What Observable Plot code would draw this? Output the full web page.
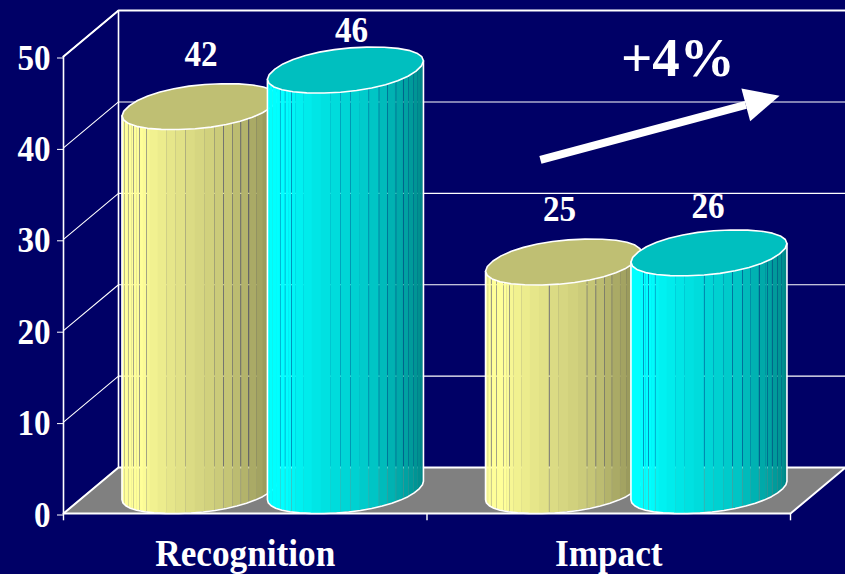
<!DOCTYPE html>
<html>
<head>
<meta charset="utf-8">
<script src="https://cdn.jsdelivr.net/npm/d3@7"></script>
<script src="https://cdn.jsdelivr.net/npm/@observablehq/plot@0.6"></script>
<style>
  html, body { margin: 0; padding: 0; background: #000066; overflow: hidden; }
  svg { display: block; }
</style>
</head>
<body>
<script>
// Chart values
const categories = ["Recognition", "Impact"];
const firstSeries = [42, 25];
const secondSeries = [46, 26];
const tickValues = [0, 10, 20, 30, 40, 50];
const annotation = "+4%";

// Oblique 3D layout, in data units: one category spans 1 on x
const depthX = 0.1513;
const depthY = 5.03;
const halfWidth = 0.2146;
const roundness = 0.93;
const xMax = categories.length;
const yMax = 50;
const pxPerX = 363.5;
const pxPerY = 9.14;
const serifFont = "Liberation Serif";

// Per-series cylinder look: offset in the category, colours, facet seams (degrees round the front)
const cylinders = [
  { values: firstSeries, offset: 0.3, base: [255, 255, 153],
    seams: [16, 24, 32, 40, 47, 80, 101, 108, 115, 122, 129, 137],
    labelDx: [1, -4], labelDy: [-75, -76] },
  { values: secondSeries, offset: 0.7, base: [0, 255, 255],
    seams: [34, 40, 47, 87, 94, 101, 108, 116, 123, 131, 139, 145, 152, 159],
    labelDx: [6, -1], labelDy: [-63, -69] }
];

const shade = d3.scaleLinear()
  .domain([0, 42, 52, 80, 110, 130, 150, 180])
  .range([1, 1, 0.95, 0.87, 0.78, 0.68, 0.6, 0.5]);

// Slightly squared circle used for lids and bases
const rad = d => d * Math.PI / 180;
const power = v => Math.sign(v) * Math.pow(Math.abs(v), roundness);
const degrees = d3.range(0, 360, 0.5);
const unit = deg => ({ c: power(Math.cos(rad(deg))), s: power(Math.sin(rad(deg))) });
let radiusX = halfWidth;
for (let k = 0; k < 30; k++) {
  const widest = d3.max(degrees, deg => {
    const u = unit(deg);
    return radiusX * u.c + depthX / 2 * u.s;
  });
  radiusX += halfWidth - widest;
}
const leftmost = d3.least(degrees, deg => {
  const u = unit(deg);
  return radiusX * u.c + depthX / 2 * u.s;
});

// A point on the rim of a cylinder at height `value`
function rim(centre, value, deg) {
  const u = unit(deg);
  const d = 0.5 + 0.5 * u.s;
  return { x: centre + radiusX * u.c + depthX * d, y: value + depthY * d };
}

// Front arc from silhouette to silhouette, relative to the centre of the cylinder
const frontArc = d3.range(0, 180.01, 0.5)
  .map(phi => rim(-depthX / 2, 0, leftmost + phi))
  .sort((a, b) => a.x - b.x);
const frontIndex = d3.bisector(p => p.x).center;
const frontHeight = rel => frontArc[frontIndex(frontArc, rel)].y;

const color = (base, k) => `rgb(${base.map(c => Math.round(c * k)).join(",")})`;

function cylinderMarks(cyl) {
  const facetAngles = d3.range(0, 180.01, 7.2);
  const stops = Array.from(new Set([...facetAngles, ...cyl.seams])).sort(d3.ascending);
  const stripes = [], outlines = [], lids = [];
  const gap = 0.0008, overlap = 0.001;
  cyl.values.forEach((value, i) => {
    const centre = i + cyl.offset;
    const mid = centre + depthX / 2;
    stops.slice(0, -1).forEach((phi, j) => {
      const next = stops[j + 1];
      const x0 = -halfWidth * Math.cos(rad(phi));
      const x1 = -halfWidth * Math.cos(rad(next));
      const endX = cyl.seams.includes(next) ? x1 - gap : x1 + overlap;
      const fill = color(cyl.base, shade((phi + next) / 2));
      const id = `${i}-${j}`;
      const h0 = frontHeight(x0), h1 = frontHeight(x1);
      stripes.push({ stripe: id, x: mid + x0, y1: h0, y2: h0 + value, fill });
      stripes.push({ stripe: id, x: mid + endX, y1: h1, y2: h1 + value, fill });
    });
    outlines.push({ bar: i, ...rim(centre, value, leftmost) });
    d3.range(0, 180.01, 9).forEach(phi => outlines.push({ bar: i, ...rim(centre, 0, leftmost + phi) }));
    outlines.push({ bar: i, ...rim(centre, value, leftmost + 180) });
    d3.range(0, 360.01, 12).forEach(deg => lids.push({ bar: i, ...rim(centre, value, leftmost + deg) }));
  });
  const lidColor = color(cyl.base, 0.75);
  return [
    Plot.area(stripes, { x1: "x", y1: "y1", y2: "y2", z: "stripe", fill: "fill" }),
    Plot.line(outlines, { x: "x", y: "y", z: "bar", stroke: "white", strokeWidth: 1.6 }),
    Plot.line(lids, { x: "x", y: "y", z: "bar", fill: lidColor, stroke: "white", strokeWidth: 1.6 })
  ];
}

// The value labels carry per-bar nudges, so they are drawn one at a time
function valueLabels(cyl) {
  return cyl.values.map((v, i) => Plot.text([v], {
    x: () => i + cyl.offset + depthX / 2,
    y: d => d,
    text: d => String(d),
    dx: cyl.labelDx[i],
    dy: cyl.labelDy[i],
    fill: "white", fontSize: 36, fontWeight: "bold", fontFamily: serifFont
  }));
}

// Floor parallelogram
const floor = [
  { x: 0, y1: 0, y2: 0 },
  { x: depthX, y1: 0, y2: depthY },
  { x: xMax, y1: 0, y2: depthY },
  { x: xMax + depthX, y1: depthY, y2: depthY }
];

// Wall grid: a diagonal on the side wall joined to a horizontal on the back wall
const gridPaths = tickValues.filter(v => v > 0).flatMap(v => [
  { v, x: 0, y: v },
  { v, x: depthX, y: v + depthY },
  { v, x: xMax + depthX, y: v + depthY }
]);

// Rising arrow beside the annotation, head built from its own direction
const arrowFrom = { x: 1.312, y: 38.7 };
const arrowTip = { x: 1.97, y: 45.7 };
const headLength = 35, headHalfWidth = 17;
const pxDx = (arrowTip.x - arrowFrom.x) * pxPerX;
const pxDy = (arrowTip.y - arrowFrom.y) * pxPerY;
const pxLen = Math.hypot(pxDx, pxDy);
const ux = pxDx / pxLen, uy = pxDy / pxLen;
const headBase = { x: arrowTip.x - headLength * ux / pxPerX, y: arrowTip.y - headLength * uy / pxPerY };
const arrowHead = [
  arrowTip,
  { x: headBase.x - headHalfWidth * uy / pxPerX, y: headBase.y + headHalfWidth * ux / pxPerY },
  { x: headBase.x + headHalfWidth * uy / pxPerX, y: headBase.y - headHalfWidth * ux / pxPerY },
  arrowTip
];

const chart = Plot.plot({
  width: 845,
  height: 574,
  marginLeft: 63,
  marginRight: 55,
  marginTop: 56,
  marginBottom: 61,
  style: { background: "#000066", overflow: "visible" },
  x: { type: "linear", domain: [0, xMax], axis: null },
  y: { type: "linear", domain: [0, yMax], axis: null },
  color: { type: "identity" },
  marks: [
    Plot.area(floor, { x1: "x", y1: "y1", y2: "y2", fill: "#808080" }),
    Plot.line(gridPaths, { x: "x", y: "y", z: "v", stroke: "white", strokeWidth: 1.1 }),
    Plot.line([{ x: 0, y: yMax }, { x: depthX, y: yMax + depthY }, { x: xMax + depthX, y: yMax + depthY }],
      { x: "x", y: "y", stroke: "white", strokeWidth: 2 }),
    Plot.ruleX([depthX], { y1: depthY, y2: yMax + depthY, stroke: "white", strokeWidth: 1.6 }),
    Plot.line([{ x: 0, y: 0 }, { x: depthX, y: depthY }, { x: xMax + depthX, y: depthY }, { x: xMax, y: 0 }],
      { x: "x", y: "y", stroke: "white", strokeWidth: 2 }),
    Plot.ruleY([0], { stroke: "white", strokeWidth: 2 }),
    Plot.ruleX([0], { y1: 0, y2: yMax, stroke: "white", strokeWidth: 1.6 }),
    Plot.axisY({
      ticks: tickValues, tickSize: 6, tickPadding: 7, label: null, color: "white", dy: 1.5,
      fontSize: 36, fontWeight: "bold", fontFamily: serifFont
    }),
    Plot.ruleX(d3.range(0, xMax + 1), { y1: 0, y2: -0.8, stroke: "white", strokeWidth: 1.4 }),
    ...cylinders.flatMap(c => [...cylinderMarks(c), ...valueLabels(c)]),
    Plot.text(categories, {
      x: (d, i) => i + 0.5, y: 0, dy: 40, text: d => d, fill: "white",
      fontSize: 38.3, fontWeight: "bold", fontFamily: serifFont
    }),
    Plot.line([arrowFrom, headBase], { x: "x", y: "y", stroke: "white", strokeWidth: 8, strokeLinecap: "butt" }),
    Plot.line(arrowHead, { x: "x", y: "y", fill: "white", stroke: "none" }),
    Plot.text([annotation], {
      x: 1.69, y: 50, dy: 2, text: d => d, fill: "white",
      fontSize: 55, fontWeight: "bold", fontFamily: serifFont
    })
  ]
});
document.body.append(chart);

// The lettering runs a little narrow: squeeze each label horizontally, the annotation excepted
d3.select(chart).selectAll("text").each(function () {
  if (this.textContent === annotation) return;
  this.setAttribute("textLength", this.getComputedTextLength() * 0.92);
  this.setAttribute("lengthAdjust", "spacingAndGlyphs");
});
</script>
</body>
</html>
